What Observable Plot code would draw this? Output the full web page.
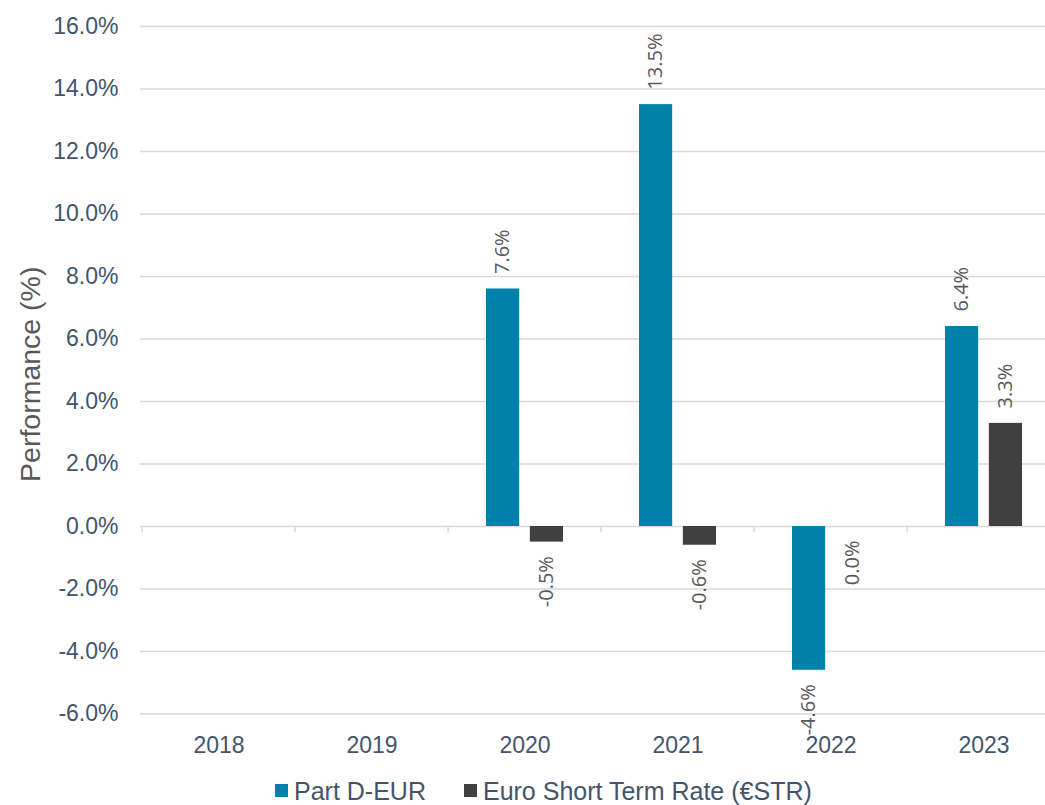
<!DOCTYPE html>
<html>
<head>
<meta charset="utf-8">
<script src="https://cdn.jsdelivr.net/npm/d3@7"></script>
<script src="https://cdn.jsdelivr.net/npm/@observablehq/plot@0.6"></script>
<style>
  html, body { margin: 0; padding: 0; background: #fff; overflow: hidden; width: 1045px; height: 805px; }
  #chart { position: absolute; left: 0; top: 0; }
  #legend { position: absolute; left: 275px; top: 773px; font-family: "Liberation Sans", Arial, sans-serif; font-size: 25px; line-height: 30px; color: #44546A; white-space: nowrap; }
  #legend span.item { display: inline-flex; align-items: center; margin-right: 38px; }
  #legend span.sw { display: inline-block; width: 13px; height: 13px; margin-right: 6px; }
</style>
</head>
<body>
<div id="chart"></div>
<div id="legend"></div>
<script>
const years = ["2018", "2019", "2020", "2021", "2022", "2023"];
const partD = [null, null, 7.6, 13.5, -4.6, 6.4];
const estr = [null, null, -0.5, -0.6, 0.0, 3.3];
const seriesNames = ["Part D-EUR", "Euro Short Term Rate (€STR)"];
const seriesColors = ["#0180AC", "#404040"];
const yTicks = [-6, -4, -2, 0, 2, 4, 6, 8, 10, 12, 14, 16];

const rowsA = years.map((y, i) => ({year: y, value: partD[i]})).filter(d => d.value != null);
const rowsB = years.map((y, i) => ({year: y, value: estr[i]})).filter(d => d.value != null);
const fmt = v => v.toFixed(1) + "%";

const W = 1045, H = 770;
const bandLeft = 139, bandRight = 1062;
const bw = (bandRight - bandLeft) / years.length;
const gridColor = "#d9d9d9";
const labelFont = "'Open Sans', 'DejaVu Sans', sans-serif";
const lblSize = 20;

const chart = Plot.plot({
  width: W,
  height: H,
  marginLeft: 140,
  marginRight: 0,
  marginTop: 26,
  marginBottom: 56.5,
  style: {fontFamily: "'Liberation Sans', Arial, sans-serif", background: "transparent", overflow: "visible"},
  x: {type: "band", domain: years, range: [bandLeft, bandRight], padding: 0},
  y: {domain: [-6, 16], range: [713.5, 26]},
  marks: [
    Plot.ruleY(yTicks, {stroke: gridColor, strokeWidth: 1.5}),
    Plot.ruleX(years, {x: d => d, y1: 0, y2: -0.2, stroke: gridColor, strokeWidth: 1.5, dx: -bw / 2}),
    Plot.barY(rowsA, {x: "year", y: "value", fill: seriesColors[0], insetLeft: 38, insetRight: bw - 72}),
    Plot.barY(rowsB, {x: "year", y: "value", fill: seriesColors[1], insetLeft: bw - 72, insetRight: 38}),
    Plot.text(rowsA.filter(d => d.value > 0), {x: "year", y: "value", text: d => fmt(d.value), rotate: -90, textAnchor: "start", dx: -(bw / 2 - 55), dy: -15, fontSize: lblSize, fill: "#595959", fontFamily: labelFont}),
    Plot.text(rowsA.filter(d => d.value <= 0), {x: "year", y: "value", text: d => fmt(d.value), rotate: -90, textAnchor: "end", dx: -(bw / 2 - 55), dy: 14, fontSize: lblSize, fill: "#595959", fontFamily: labelFont}),
    Plot.text(rowsB.filter(d => d.value > 0), {x: "year", y: "value", text: d => fmt(d.value), rotate: -90, textAnchor: "start", dx: (bw / 2 - 55), dy: -15, fontSize: lblSize, fill: "#595959", fontFamily: labelFont}),
    Plot.text(rowsB.filter(d => d.value <= 0), {x: "year", y: "value", text: d => fmt(d.value), rotate: -90, textAnchor: "end", dx: (bw / 2 - 55), dy: 14, fontSize: lblSize, fill: "#595959", fontFamily: labelFont}),
    Plot.axisY({ticks: yTicks, tickFormat: d => d.toFixed(1) + "%", tickSize: 0, tickPadding: 22, fontSize: 23, fill: "#44546A", label: null}),
    Plot.axisX({tickSize: 0, tickPadding: 23, fontSize: 23, fill: "#44546A", label: null}),
    Plot.text(["Performance (%)"], {frameAnchor: "left", rotate: -90, textAnchor: "middle", dx: -110, dy: 4, fontSize: 28.5, fill: "#595959", text: d => d})
  ]
});
document.getElementById("chart").appendChild(chart);

const legend = document.getElementById("legend");
seriesNames.forEach((name, i) => {
  const item = document.createElement("span");
  item.className = "item";
  const sw = document.createElement("span");
  sw.className = "sw";
  sw.style.background = seriesColors[i];
  item.appendChild(sw);
  item.appendChild(document.createTextNode(name));
  legend.appendChild(item);
});
</script>
</body>
</html>
